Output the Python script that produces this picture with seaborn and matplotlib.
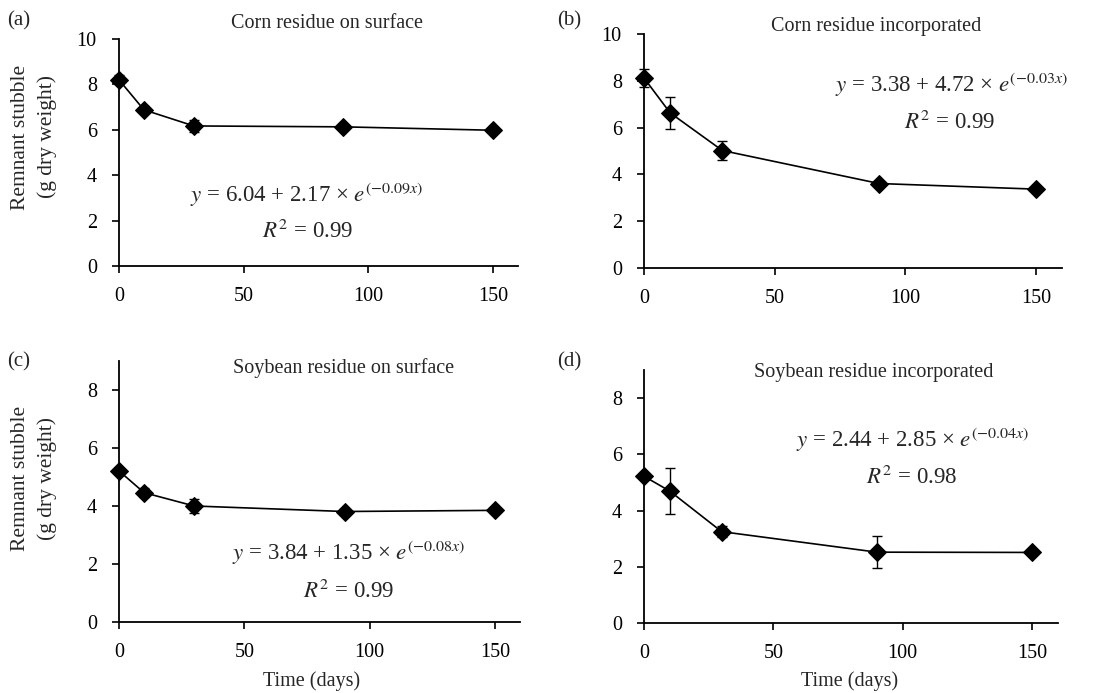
import matplotlib
matplotlib.use('Agg')
import matplotlib.pyplot as plt
import seaborn as sns

# sampling days and measured stubble (g dry weight) per treatment
days = [0, 10, 30, 90, 150]
corn_surface = [8.2, 6.88, 6.17, 6.13, 5.98]
corn_surface_err = [0.2, 0.15, 0.25, 0.1, 0.08]
corn_incorp = [8.12, 6.63, 5.02, 3.61, 3.37]
corn_incorp_err = [0.37, 0.67, 0.4, 0.08, 0.08]
soy_surface = [5.21, 4.46, 4.0, 3.81, 3.85]
soy_surface_err = [0.1, 0.15, 0.25, 0.08, 0.06]
soy_incorp = [5.22, 4.69, 3.25, 2.52, 2.51]
soy_incorp_err = [0.1, 0.82, 0.2, 0.56, 0.06]

panel_tags = ['(a)', '(b)', '(c)', '(d)']
titles = ['Corn residue on surface', 'Corn residue incorporated',
          'Soybean residue on surface', 'Soybean residue incorporated']
equations = [r'$y$ = 6.04 + 2.17 × $e^{(-0.09x)}$',
             r'$y$ = 3.38 + 4.72 × $e^{(-0.03x)}$',
             r'$y$ = 3.84 + 1.35 × $e^{(-0.08x)}$',
             r'$y$ = 2.44 + 2.85 × $e^{(-0.04x)}$']
r2_labels = [r'$R^2$ = 0.99', r'$R^2$ = 0.99', r'$R^2$ = 0.99', r'$R^2$ = 0.98']

sns.set_style('ticks')
plt.rcParams['font.family'] = ['Liberation Serif', 'DejaVu Serif']
plt.rcParams['mathtext.fontset'] = 'stix'

W, H = 1113, 693
fig = plt.figure(figsize=(W / 100, H / 100), dpi=100)

# axes rectangles in pixels: left, top(y at ymax), right, bottom(y=0)
boxes = [(119, 39, 518, 266), (644, 34, 1062, 268),
         (119, 361, 520, 622), (644, 370, 1058, 623)]
ytops = [10, 10, 9, 9]
yticks = [[0, 2, 4, 6, 8, 10], [0, 2, 4, 6, 8, 10], [0, 2, 4, 6, 8], [0, 2, 4, 6, 8]]
series = [(corn_surface, corn_surface_err), (corn_incorp, corn_incorp_err),
          (soy_surface, soy_surface_err), (soy_incorp, soy_incorp_err)]

tag_pos = [(7, 21), (557, 21), (7, 362), (557, 362)]
title_pos = [(327, 23), (876, 26), (344, 368), (874, 373)]
eq_pos = [(307, 195), (951, 85), (349, 553), (913, 440)]
r2_pos = [(308, 231), (950, 122), (349, 591), (912, 477)]


def fx(px):
    return px / W


def fy(py):
    return 1 - py / H


for i in range(4):
    l, t, r, b = boxes[i]
    ax = fig.add_axes([fx(l), fy(b), (r - l) / W, (b - t) / H])
    vals, errs = series[i]
    ax.errorbar(days, vals, yerr=errs, fmt='none', ecolor='black',
                elinewidth=1, capsize=3.5, capthick=1, zorder=2)
    sns.lineplot(x=days, y=vals, ax=ax, color='black', linewidth=1.2,
                 marker='D', markersize=9.5, markeredgecolor='black',
                 markerfacecolor='black', zorder=3)
    ax.set_xlim(0, 160)
    ax.set_ylim(0, ytops[i])
    ax.set_xticks([0, 50, 100, 150])
    ax.set_yticks(yticks[i])
    sns.despine(ax=ax)
    for s in ['left', 'bottom']:
        ax.spines[s].set_linewidth(1.3)
        ax.spines[s].set_color('black')
    ax.tick_params(axis='both', labelsize=14.5, width=1.2, length=5,
                   colors='black')
    ax.tick_params(axis='x', pad=10)
    ax.tick_params(axis='y', pad=11)
    ax.set_xlabel('')
    ax.set_ylabel('')
    for m in ax.lines:
        m.set_clip_on(False)

    fig.text(fx(tag_pos[i][0]), fy(tag_pos[i][1]), panel_tags[i],
             fontsize=15, va='center', ha='left')
    fig.text(fx(title_pos[i][0]), fy(title_pos[i][1]), titles[i],
             fontsize=14.5, va='center', ha='center')
    fig.text(fx(eq_pos[i][0]), fy(eq_pos[i][1]), equations[i],
             fontsize=16.5, va='center', ha='center')
    fig.text(fx(r2_pos[i][0]), fy(r2_pos[i][1]), r2_labels[i],
             fontsize=16.5, va='center', ha='center')

for cy in [137, 478]:
    fig.text(fx(34), fy(cy), 'Remnant stubble\n(g dry weight)', fontsize=15.5,
             rotation=90, va='center', ha='center', linespacing=1.5)

for cx in [312, 850]:
    fig.text(fx(cx), fy(681), 'Time (days)', fontsize=14.5,
             va='center', ha='center')

fig.savefig('out.png', dpi=100, facecolor='white')
